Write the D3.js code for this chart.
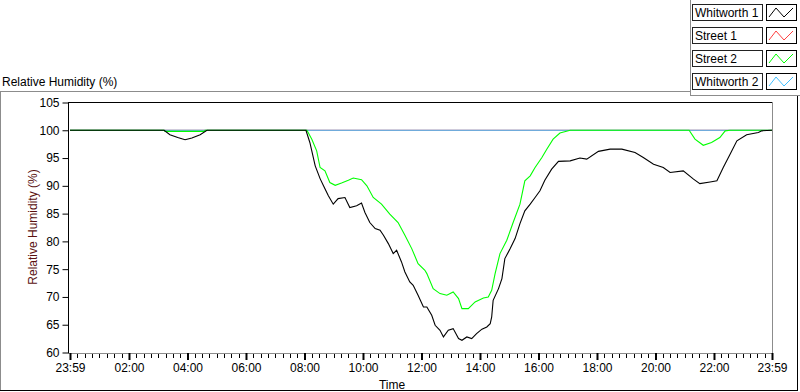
<!DOCTYPE html>
<html>
<head>
<meta charset="utf-8">
<script src="https://cdn.jsdelivr.net/npm/d3@7.9.0/dist/d3.min.js"></script>
<style>
  body { margin: 0; background: #fff; }
  svg { display: block; font-family: "Liberation Sans", Arial, sans-serif; font-size: 12px; }
</style>
</head>
<body>
<svg width="800" height="392"></svg>
<script>
// series names + colours (legend order)
const seriesNames = ["Whitworth 1", "Street 1", "Street 2", "Whitworth 2"];
const seriesColors = ["#000000", "#ff4040", "#00ff00", "#40bfff"];

// x tick labels (2 h steps, first and last are 23:59)
const xTickLabels = ["23:59", "02:00", "04:00", "06:00", "08:00", "10:00", "12:00",
  "14:00", "16:00", "18:00", "20:00", "22:00", "23:59"];
const yTicks = [60, 65, 70, 75, 80, 85, 90, 95, 100, 105];

// readings [time, RH %]; the first "23:59" is the previous day
const whitworth1 = [
  ["23:59", 100], ["03:12", 100], ["03:24", 99.2], ["03:40", 98.7], ["03:55", 98.3],
  ["04:09", 98.6], ["04:26", 99.2], ["04:40", 100], ["08:03", 100], ["08:11", 97.8],
  ["08:22", 93.6], ["08:32", 91.3], ["08:39", 90.0], ["08:49", 88.2], ["08:59", 86.7],
  ["09:09", 87.7], ["09:23", 87.9], ["09:33", 86.1], ["09:47", 86.4], ["09:57", 86.9],
  ["10:04", 85.2], ["10:14", 83.4], ["10:25", 82.3], ["10:35", 82.0], ["10:42", 81.1],
  ["10:52", 79.6], ["11:02", 77.8], ["11:09", 78.4], ["11:19", 76.3], ["11:26", 74.5],
  ["11:36", 72.7], ["11:43", 72.1], ["11:53", 70.3], ["12:04", 68.2], ["12:11", 68.2],
  ["12:21", 66.7], ["12:28", 64.9], ["12:38", 64.0], ["12:45", 62.8], ["12:55", 64.0],
  ["13:05", 64.3], ["13:16", 62.5], ["13:23", 62.2], ["13:33", 62.8], ["13:43", 62.5],
  ["13:53", 63.4], ["14:04", 64.2], ["14:14", 64.6], ["14:21", 65.2], ["14:24", 66.4],
  ["14:27", 69.4], ["14:38", 71.5], ["14:45", 73.3], ["14:51", 76.9], ["15:02", 78.7],
  ["15:12", 80.5], ["15:22", 83.2], ["15:32", 85.5], ["15:43", 86.7], ["15:53", 87.9],
  ["16:03", 89.1], ["16:13", 91.0], ["16:27", 93.0], ["16:41", 94.4], ["17:05", 94.5],
  ["17:25", 95.0], ["17:39", 94.8], ["18:03", 96.2], ["18:27", 96.6], ["18:51", 96.6],
  ["19:18", 96.0], ["19:35", 95.1], ["19:56", 93.9], ["20:16", 93.3], ["20:30", 92.4],
  ["20:57", 92.7], ["21:18", 91.2], ["21:31", 90.4], ["21:52", 90.7], ["22:06", 90.9],
  ["22:19", 93.3], ["22:33", 95.7], ["22:47", 98.1], ["23:07", 99.2], ["23:31", 99.6],
  ["23:38", 99.9], ["23:59", 100]
];
const street1 = [["23:59", 100], ["23:59", 100]];
const street2 = [
  ["23:59", 100], ["03:12", 100], ["03:14", 99.8], ["04:34", 99.8], ["04:36", 100],
  ["08:05", 100], ["08:15", 98.4], ["08:25", 96.3], ["08:32", 93.3], ["08:42", 92.7],
  ["08:52", 90.6], ["09:03", 90.1], ["09:16", 90.5], ["09:30", 91.0], ["09:40", 91.4],
  ["09:57", 91.1], ["10:08", 90.0], ["10:21", 87.9], ["10:38", 86.7], ["10:55", 84.9],
  ["11:12", 83.4], ["11:26", 81.1], ["11:40", 78.7], ["11:53", 76.0], ["12:07", 74.8],
  ["12:11", 74.2], ["12:24", 71.5], ["12:38", 70.6], ["12:52", 70.3], ["13:05", 70.9],
  ["13:16", 69.7], ["13:23", 67.9], ["13:36", 67.9], ["13:50", 69.1], ["14:07", 69.8],
  ["14:17", 70.0], ["14:24", 71.2], ["14:31", 74.2], ["14:41", 77.8], ["14:55", 80.2],
  ["15:08", 83.4], ["15:22", 86.7], ["15:32", 90.9], ["15:43", 91.8], ["15:53", 93.3],
  ["16:07", 95.1], ["16:17", 96.6], ["16:30", 98.4], ["16:44", 99.5], ["17:05", 100],
  ["21:09", 100], ["21:21", 98.4], ["21:38", 97.3], ["21:55", 97.8], ["22:12", 98.7],
  ["22:23", 99.9], ["22:33", 100], ["23:59", 100]
];
const whitworth2 = [["23:59", 100], ["23:59", 100]];

// "23:59" at index 0 belongs to the day before
function toDate(s, i) {
  const [h, m] = s.split(":").map(Number);
  return new Date(2000, 0, i === 0 && s === "23:59" ? 1 : 2, h, m);
}

const svg = d3.select("svg");

const x = d3.scaleTime()
  .domain([toDate("23:59", 0), toDate("23:59", 1)])
  .range([70, 772]);
const y = d3.scaleLinear().domain([60, 105]).range([352.5, 102.5]);

// outer panel + legend frame
svg.append("line").attr("x1", 0).attr("x2", 690).attr("y1", 91.5).attr("y2", 91.5).attr("stroke", "#8c8c8c");
svg.append("line").attr("x1", 0.5).attr("x2", 0.5).attr("y1", 91.5).attr("y2", 391).attr("stroke", "#8c8c8c");
svg.append("line").attr("x1", 0).attr("x2", 798).attr("y1", 390.5).attr("y2", 390.5).attr("stroke", "#000");
svg.append("line").attr("x1", 797.5).attr("x2", 797.5).attr("y1", 95).attr("y2", 391).attr("stroke", "#000");
svg.append("line").attr("x1", 690.5).attr("x2", 690.5).attr("y1", 0).attr("y2", 95.5).attr("stroke", "#8c8c8c");
svg.append("line").attr("x1", 690).attr("x2", 800).attr("y1", 95.5).attr("y2", 95.5).attr("stroke", "#8c8c8c");

// title
svg.append("text").attr("x", 2).attr("y", 86).attr("fill", "#000").text("Relative Humidity (%)");

// plot frame
svg.append("line").attr("x1", 68).attr("x2", 772).attr("y1", 102.5).attr("y2", 102.5).attr("stroke", "#000");
svg.append("line").attr("x1", 772.5).attr("x2", 772.5).attr("y1", 102).attr("y2", 353).attr("stroke", "#8c8c8c");
svg.append("line").attr("x1", 68).attr("x2", 773).attr("y1", 353.5).attr("y2", 353.5).attr("stroke", "#8c8c8c");

// y axis
const yAxis = d3.axisLeft(y).tickValues(yTicks).tickSize(6).tickPadding(3);
const gy = svg.append("g").attr("transform", "translate(68.5,0)").call(yAxis);
gy.select(".domain").attr("d", "M0,102V353").attr("stroke", "#000");
gy.selectAll("text").attr("font-size", 12).attr("font-family", "Liberation Sans, Arial, sans-serif").attr("fill", "#000");

// x axis: major ticks + 8 subdivisions between them
const xMajor = xTickLabels.map((s, i) => toDate(s, i));
const xMinor = [];
for (let i = 0; i < xMajor.length - 1; i++) {
  const a = +xMajor[i], b = +xMajor[i + 1];
  for (let k = 1; k < 8; k++) xMinor.push(new Date(a + (b - a) * k / 8));
}
svg.append("g").selectAll("line").data(xMinor).join("line")
  .attr("x1", (d) => Math.round(x(d)) + 0.5).attr("x2", (d) => Math.round(x(d)) + 0.5)
  .attr("y1", 354).attr("y2", 358).attr("stroke", "#000");
const xAxis = d3.axisBottom(x).tickValues(xMajor)
  .tickFormat((d, i) => xTickLabels[i]).tickSize(7).tickPadding(3);
const gx = svg.append("g").attr("transform", "translate(0,353)").call(xAxis);
gx.select(".domain").remove();
gx.selectAll(".tick line").attr("stroke-width", 2);
gx.selectAll("text").attr("font-size", 12).attr("font-family", "Liberation Sans, Arial, sans-serif").attr("fill", "#000");

// axis titles
svg.append("text").attr("x", 392).attr("y", 389).attr("text-anchor", "middle").text("Time");
svg.append("text")
  .attr("transform", "translate(37,227) rotate(-90)")
  .attr("text-anchor", "middle").attr("fill", "#5a1010")
  .text("Relative Humidity (%)");

// series lines, drawn so Whitworth 1 ends on top
const line = d3.line()
  .x((d, i) => x(toDate(d[0], i)))
  .y((d) => y(d[1]));
const drawOrder = [
  [street1, seriesColors[1]],
  [whitworth2, seriesColors[3]],
  [street2, seriesColors[2]],
  [whitworth1, seriesColors[0]]
];
drawOrder.forEach(([data, color]) => {
  svg.append("path")
    .attr("d", line(data))
    .attr("fill", "none")
    .attr("stroke", color)
    .attr("stroke-width", 1.1);
});

// legend
const legend = svg.append("g");
seriesNames.forEach((name, i) => {
  const top = 4 + i * 23;
  legend.append("rect").attr("x", 692.5).attr("y", top + 0.5).attr("width", 70).attr("height", 16)
    .attr("fill", "#fff").attr("stroke", "#222");
  legend.append("text").attr("x", 695).attr("y", top + 13).attr("fill", "#000").text(name);
  legend.append("rect").attr("x", 766.5).attr("y", top + 0.5).attr("width", 30).attr("height", 16)
    .attr("fill", "#fff").attr("stroke", "#000");
  legend.append("path")
    .attr("d", `M${769},${top + 13}L${776},${top + 4}L${784},${top + 13}L${793},${top + 4}`)
    .attr("fill", "none").attr("stroke", seriesColors[i]);
});
</script>
</body>
</html>
